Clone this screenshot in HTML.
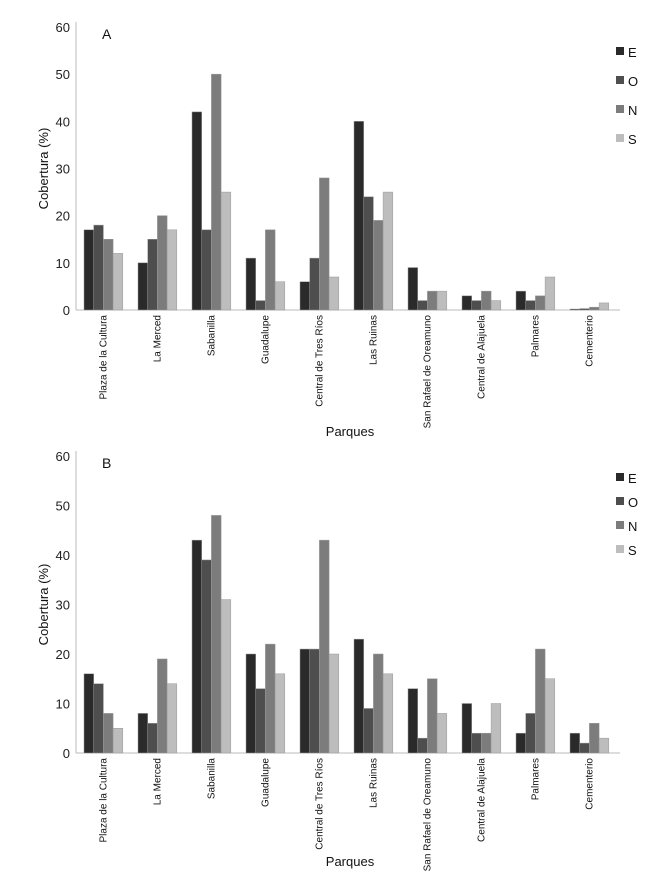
<!DOCTYPE html>
<html><head><meta charset="utf-8"><style>
html,body{margin:0;padding:0;background:#fff;}
svg{display:block;font-family:"Liberation Sans",sans-serif;}
</style></head><body>
<svg id="chart" width="647" height="876" viewBox="0 0 647 876" xmlns="http://www.w3.org/2000/svg"></svg>
<script>
const categories = ["Plaza de la Cultura","La Merced","Sabanilla","Guadalupe","Central de Tres Ríos","Las Ruinas","San Rafael de Oreamuno","Central de Alajuela","Palmares","Cementerio"];
const seriesNames = ["E","O","N","S"];
const yTicks = [0,10,20,30,40,50,60];
const aE = [17,10,42,11,6,40,9,3,4,0.2];
const aO = [18,15,17,2,11,24,2,2,2,0.3];
const aN = [15,20,50,17,28,19,4,4,3,0.6];
const aS = [12,17,25,6,7,25,4,2,7,1.5];
const bE = [16,8,43,20,21,23,13,10,4,4];
const bO = [14,6,39,13,21,9,3,4,8,2];
const bN = [8,19,48,22,43,20,15,4,21,6];
const bS = [5,14,31,16,20,16,8,10,15,3];
const colors = ["#2a2a2a","#4e4e4e","#7c7c7c","#bdbdbd"];
const NS="http://www.w3.org/2000/svg";
const svg=document.getElementById('chart');
function mk(tag,attrs,parent){const e=document.createElementNS(NS,tag);for(const k in attrs)e.setAttribute(k,attrs[k]);(parent||svg).appendChild(e);return e;}
function panel(id,letter,series,y0,y60,legendY,legendStep,parquesY){
  const g=mk('g',{});
  
  
  const yS=v=>y0-(v/60)*(y0-y60);
  const xAxisL=76, grp0=84, grpStep=54, barW=9.7;
  const ax=mk('line',{x1:xAxisL,y1:y60-5,x2:xAxisL,y2:y0,stroke:'#bbb','stroke-width':1},g);
  
  const xx=mk('line',{x1:xAxisL,y1:y0,x2:620,y2:y0,stroke:'#bbb','stroke-width':1},g);
  
  yTicks.forEach(t=>{
    const tx=mk('text',{x:70,y:yS(t)+5,'text-anchor':'end','font-size':13,fill:'#222'},g);
    tx.textContent=t;
    
  });
  const yt=mk('text',{x:0,y:0,'text-anchor':'middle','font-size':13,fill:'#111',transform:`translate(48,${(y0+y60)/2}) rotate(-90)`},g);
  yt.textContent='Cobertura (%)';
  
  const lt=mk('text',{x:102,y:y60+12,'font-size':14,fill:'#111'},g);
  lt.textContent=letter;
  
  categories.forEach((c,i)=>{
    const gx=grp0+i*grpStep;
    series.forEach((arr,s)=>{
      const v=arr[i];
      const r=mk('rect',{x:gx+s*barW,y:yS(v),width:barW,height:y0-yS(v),fill:colors[s],stroke:'#999','stroke-width':0.5},g);
      
      
    });
    const cx=gx+2*barW+3;
    const lab=mk('text',{x:0,y:0,'text-anchor':'end','font-size':10,fill:'#111',transform:`translate(${cx},${y0+5}) rotate(-90)`},g);
    lab.textContent=c;
    
  });
  const pq=mk('text',{x:350,y:parquesY,'text-anchor':'middle','font-size':13,fill:'#111'},g);
  pq.textContent='Parques';
  
  seriesNames.forEach((n,s)=>{
    const ly=legendY+s*legendStep;
    const sw=mk('rect',{x:616,y:ly-5,width:8,height:8,fill:colors[s]},g);
    
    const tx=mk('text',{x:628,y:ly+5,'font-size':13,fill:'#111'},g);
    tx.textContent=n;
    
  });
}
panel('a','A',[aE,aO,aN,aS],310,27,52,29,436);
panel('b','B',[bE,bO,bN,bS],753,456,478,24,866);
</script>
</body></html>
